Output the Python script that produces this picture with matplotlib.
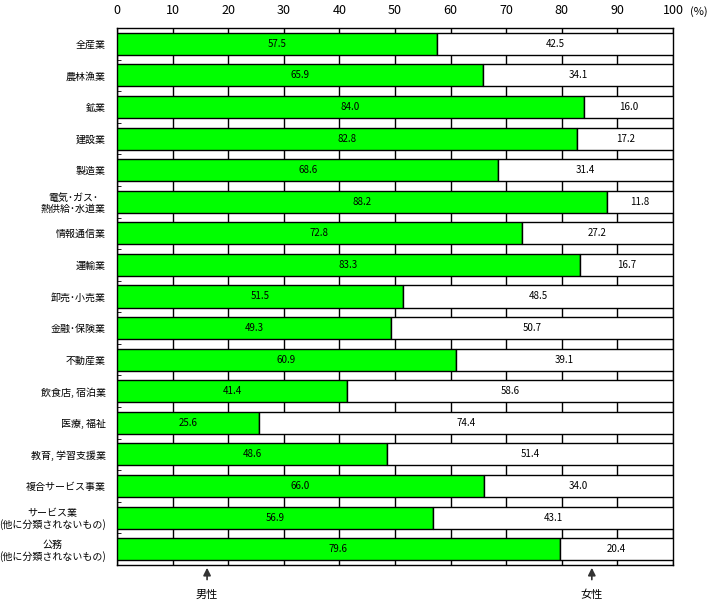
import matplotlib
matplotlib.use("Agg")
import matplotlib.pyplot as plt
import numpy as np

plt.rcParams['font.family'] = ['Noto Sans CJK JP', 'DejaVu Sans']

categories = ["全産業", "農林漁業", "鉱業", "建設業", "製造業",
              "電気･ガス･\n熱供給･水道業", "情報通信業", "運輸業", "卸売･小売業",
              "金融･保険業", "不動産業", "飲食店, 宿泊業", "医療, 福祉",
              "教育, 学習支援業", "複合サービス事業",
              "サービス業\n(他に分類されないもの)", "公務\n(他に分類されないもの)"]
male = [57.5, 65.9, 84.0, 82.8, 68.6, 88.2, 72.8, 83.3, 51.5, 49.3, 60.9,
        41.4, 25.6, 48.6, 66.0, 56.9, 79.6]
female = [42.5, 34.1, 16.0, 17.2, 31.4, 11.8, 27.2, 16.7, 48.5, 50.7, 39.1,
          58.6, 74.4, 51.4, 34.0, 43.1, 20.4]
xticks = [0, 10, 20, 30, 40, 50, 60, 70, 80, 90, 100]

fig = plt.figure(figsize=(7.1, 6.05), dpi=100)
ax = fig.add_axes([117/710, 1-565/605, 556/710, 537/605])

y = np.arange(len(categories))
h = 0.7
ax.barh(y, male, height=h, color='#00ff00', edgecolor='black', linewidth=1, zorder=3)
ax.barh(y, female, left=male, height=h, color='white', edgecolor='black', linewidth=1, zorder=3)

for i in range(len(categories)):
    ax.text(male[i] / 2, y[i], f"{male[i]:.1f}", ha='center', va='center', fontsize=7, zorder=4)
    ax.text(male[i] + female[i] / 2, y[i], f"{female[i]:.1f}", ha='center', va='center', fontsize=7, zorder=4)

ax.set_xlim(0, 100)
ax.set_ylim(len(categories) - 0.5, -0.5)
ax.set_xticks(xticks)
ax.set_xticklabels([str(t) for t in xticks], fontsize=9)
ax.xaxis.tick_top()
ax.tick_params(axis='x', length=0, pad=8)
ax.grid(axis='x', color='black', linewidth=1, zorder=0)
ax.set_yticks(y)
ax.set_yticklabels(categories, fontsize=7.2, linespacing=1.15, multialignment='center')
ax.tick_params(axis='y', length=0, pad=8)
ax.set_yticks(np.arange(0.5, len(categories) - 0.5, 1), minor=True)
ax.tick_params(axis='y', which='minor', length=3, direction='in')
for s in ax.spines.values():
    s.set_color('black')
    s.set_linewidth(1)

ax.text(1.03, 1.0 + 16/537, "(%)", transform=ax.transAxes, fontsize=8, va='center', ha='left')

# arrows
for xv, label in [(16.2, "男性"), (85.4, "女性")]:
    ax.annotate("", xy=(xv, len(categories) - 0.5), xytext=(xv, len(categories) - 0.5 + 0.55),
                arrowprops=dict(arrowstyle='-|>', color='#333333', lw=1.2, mutation_scale=11),
                annotation_clip=False)
    ax.text(xv, len(categories) - 0.5 + 0.95, label, ha='center', va='center', fontsize=8, clip_on=False)

fig.savefig("out.png", dpi=100, facecolor='white')
